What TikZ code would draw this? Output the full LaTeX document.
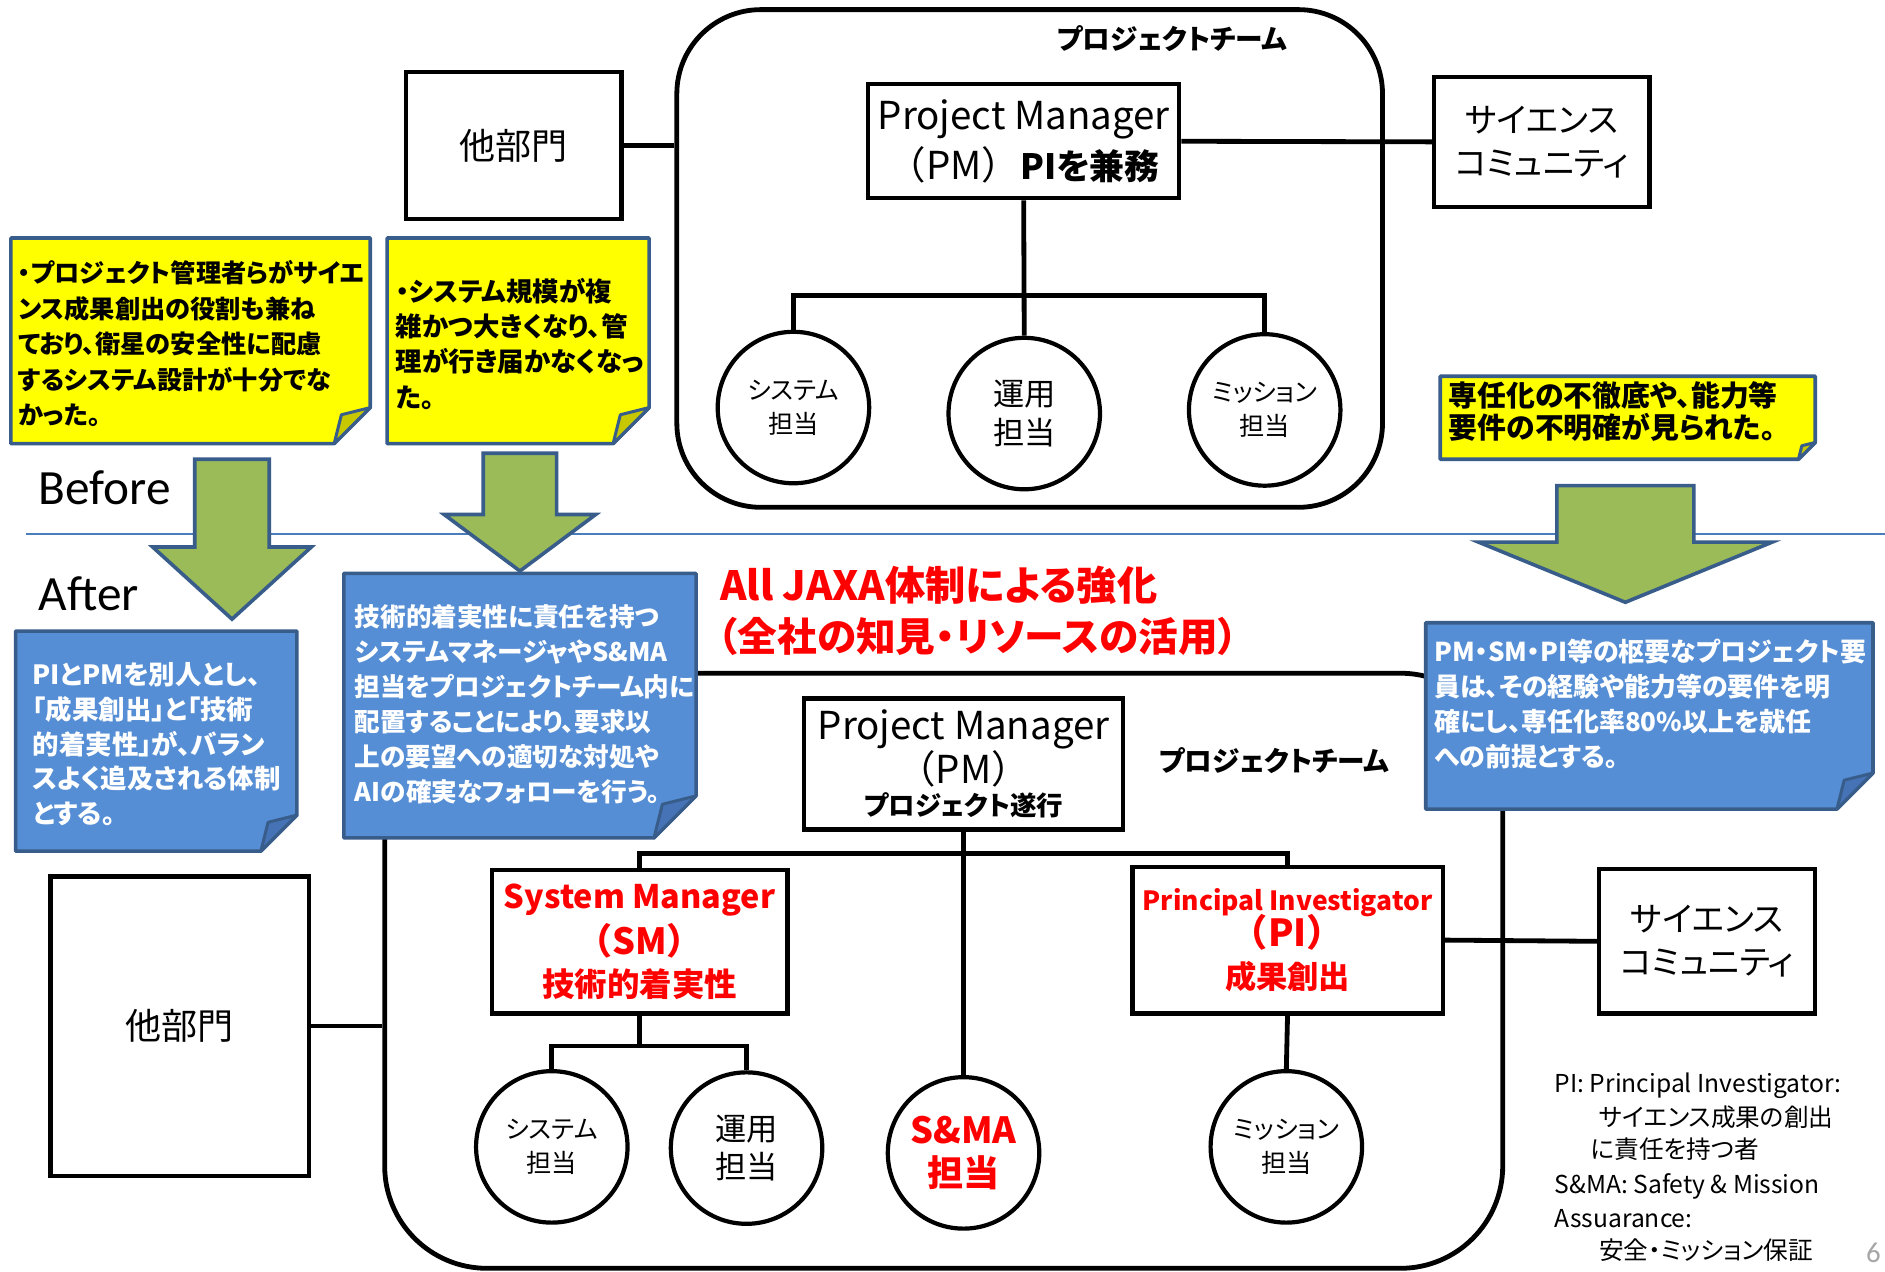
\documentclass[tikz,border=0pt]{standalone}
\usepackage{fontspec}
\setmainfont[RawFeature=+palt]{Noto Sans CJK JP}
\newfontfamily\jpf{Noto Sans CJK JP}
\newfontfamily\calf{Carlito}
\newcommand\fs[2]{\fontsize{#1}{#2}\selectfont}
\definecolor{nb}{HTML}{385D8A}
\definecolor{noteyel}{HTML}{FFFF00}
\definecolor{foldyel}{HTML}{C8C800}
\definecolor{noteblue}{HTML}{558ED5}
\definecolor{foldblue}{HTML}{4573B5}
\definecolor{arrgreen}{HTML}{9BBB59}
\definecolor{sepblue}{HTML}{4A7EBB}
\definecolor{jred}{HTML}{FF0000}
\newcommand\foldnote[7]{%
  \filldraw[fill=#5,draw=nb,line width=3pt,line join=round] (#1,#2) -- (#3,#2) -- (#3,#4-#7) -- (#3-#7,#4) -- (#1,#4) -- cycle;
  \filldraw[fill=#6,draw=nb,line width=2.5pt,line join=round] (#3,#4-#7) -- (#3-0.8*#7,#4-0.8*#7) -- (#3-#7,#4) -- cycle;}
\newcommand\garrow[6]{%
  \filldraw[fill=arrgreen,draw=nb,line width=3pt,line join=miter] (#1-#3,#2) -- (#1+#3,#2) -- (#1+#3,#4) -- (#1+#5,#4) -- (#1,#6) -- (#1-#5,#4) -- (#1-#3,#4) -- cycle;}
\begin{document}
\begin{tikzpicture}[x=1pt,y=-1pt,
  orgbox/.style={draw,line width=3.5pt,inner sep=0pt,align=center},
  orgcirc/.style={circle,draw,line width=3.5pt,inner sep=0pt,minimum size=126pt,align=center},
  conn/.style={line width=4pt},
  teambox/.style={draw,line width=4pt,inner sep=0pt,rounded corners=#1},
  notetext/.style={anchor=west,align=left,inner sep=0pt},
  fn/.style={anchor=base west,inner sep=0pt,font=\fs{20.5}{26}}]
\useasboundingbox (0,0) rectangle (1568,1058);
\fill[white] (0,0) rectangle (1568,1058);

% separator
\coordinate (sepL) at (22,444);
\coordinate (sepR) at (1568,444);
\draw[sepblue,line width=2pt] (sepL) -- (sepR);

% ===== Before =====
\node[teambox=70pt,minimum width=587pt,minimum height=414pt] (team1) at (856.5,215) {};
\node[inner sep=0pt,font=\fs{23}{28}\bfseries] (tt1) at (975,32) {プロジェクトチーム};
\node[orgbox,minimum width=179pt,minimum height=122pt,font=\fs{30}{36}] (toB1) at (427.5,121) {他部門};
\node[orgbox,minimum width=259pt,minimum height=95pt,font=\fs{32}{42}] (pm1) at (851.5,117.5) {Project Manager\\{\jpf （PM）}{\fs{29}{42}\bfseries PIを兼務}};
\node[orgbox,minimum width=179pt,minimum height=108pt,font=\fs{28}{36}] (sci1) at (1282.5,118) {サイエンス\\コミュニティ};
\node[orgcirc,font=\fs{21}{28}] (sys1) at (660,339) {システム\\担当};
\node[orgcirc,font=\fs{26}{32}] (uny1) at (852,344) {運用\\担当};
\node[orgcirc,font=\fs{21}{28}] (mis1) at (1052,341) {ミッション\\担当};
\coordinate (bus1) at (851.5,246);
\draw[conn] (toB1.east) -- (toB1.east -| team1.west);
\draw[conn] (pm1.east) -- (sci1.west);
\draw[conn] (pm1.south) -- (uny1.north);
\draw[conn] (sys1.north) |- (bus1) -| (mis1.north);

% ===== After =====
\node[teambox=85pt,minimum width=930pt,minimum height=495pt] (team2) at (785,807.5) {};
\node[inner sep=0pt,font=\fs{23}{28}\bfseries] (tt2) at (1060,633) {プロジェクトチーム};
\node[orgbox,minimum width=215pt,minimum height=249pt,font=\fs{30}{36}] (toB2) at (149.5,853.5) {他部門};
\node[orgbox,minimum width=265pt,minimum height=109pt,font=\fs{32}{34}] (pm2) at (801.5,635.5) {Project Manager\\{\jpf （PM）}\\[-7pt]{\fs{22}{26}\bfseries プロジェクト遂行}};
\node[orgbox,minimum width=246pt,minimum height=119pt,font=\fs{27}{38}\bfseries,text=jred] (sm) at (532,783.5) {System Manager\\{\jpf\fs{30}{38}（SM）}\\[-3pt]{\fs{27}{38}技術的着実性}};
\node[orgbox,minimum width=258pt,minimum height=122pt,font=\fs{26}{30}\bfseries,text=jred] (pi) at (1071,782) {{\fs{22}{30}Principal Investigator}\\[-3pt]{\jpf\fs{31}{30}（PI）}\\[5pt]{\fs{26}{30}成果創出}};
\node[orgbox,minimum width=180pt,minimum height=120pt,font=\fs{28}{36}] (sci2) at (1420,783) {サイエンス\\コミュニティ};
\node[orgcirc,font=\fs{21}{28}] (sys2) at (459,954) {システム\\担当};
\node[orgcirc,font=\fs{26}{32}] (uny2) at (621,955) {運用\\担当};
\node[orgcirc,font=\fs{30}{36}\bfseries,text=jred] (sma) at (801.5,959) {S\&MA\\担当};
\node[orgcirc,font=\fs{21}{28}] (mis2) at (1070,954) {ミッション\\担当};
\coordinate (bus2) at (801.5,710);
\coordinate (bus3) at (532,870);
\draw[conn] (toB2.east) -- (toB2.east -| team2.west);
\draw[conn] (pm2.south) -- (sma.north);
\draw[conn] (sm.north) |- (bus2) -| (pi.north);
\draw[conn] (sm.south) -- (bus3);
\draw[conn] (sys2.north) |- (bus3) -| (uny2.north);
\draw[conn] (pi.south) -- (mis2.north);
\draw[conn] (pi.east) -- (sci2.west);

% ===== notes =====
\foldnote{9}{198}{308}{369}{noteyel}{foldyel}{30}
\foldnote{322}{198}{540}{369}{noteyel}{foldyel}{30}
\foldnote{1198}{313}{1510}{382}{noteyel}{foldyel}{14}
\foldnote{13}{525}{247}{708}{noteblue}{foldblue}{30}
\foldnote{286}{477}{579}{697}{noteblue}{foldblue}{35}
\foldnote{1186}{518}{1558}{673}{noteblue}{foldblue}{30}

\node[notetext,font=\fs{21}{29.5}\bfseries] (n1) at (15,286) {・プロジェクト管理者らがサイエ\\ンス成果創出の役割も兼ね\\ており、衛星の安全性に配慮\\するシステム設計が十分でな\\かった。};
\node[notetext,font=\fs{22}{29.3}\bfseries] (n2) at (329,286) {・システム規模が複\\雑かつ大きくなり、管\\理が行き届かなくなっ\\た。};
\node[notetext,font=\fs{24}{27}\bfseries] (n3) at (1205,342.5) {専任化の不徹底や、能力等\\要件の不明確が見られた。};
\node[notetext,font=\fs{22}{29}\bfseries,text=white] (na) at (27,619) {PIとPMを別人とし、\\「成果創出」と「技術\\的着実性」が、バラン\\スよく追及される体制\\とする。};
\node[notetext,font=\fs{21.3}{29.2}\bfseries,text=white] (nbx) at (295,586) {技術的着実性に責任を持つ\\システムマネージャやS\&MA\\担当をプロジェクトチーム内に\\配置することにより、要求以\\上の要望への適切な対処や\\AIの確実なフォローを行う。};
\node[notetext,font=\fs{21.6}{29}\bfseries,text=white] (nc) at (1193,585.5) {PM・SM・PI等の枢要なプロジェクト要\\員は、その経験や能力等の要件を明\\確にし、専任化率80\%以上を就任\\への前提とする。};

% ===== arrows =====
\garrow{193}{382}{31}{455}{66}{515}
\garrow{432.5}{377}{30.5}{428}{63}{475}
\garrow{1352}{404}{57}{451}{122}{501}

% ===== labels =====
\node[anchor=base west,inner sep=0pt,font=\calf\fs{41}{44}] (before) at (32,420) {Before};
\node[anchor=base west,inner sep=0pt,font=\calf\fs{41}{44}] (after) at (32,508) {After};
\node[anchor=west,inner sep=0pt,font=\fs{33.5}{40}\bfseries,text=jred] (jaxa1) at (599,487) {All JAXA体制による強化};
\node[anchor=west,inner sep=0pt,font=\fs{33}{40}\bfseries,text=jred] (jaxa2) at (597,529) {（全社の知見・リソースの活用）};

\node[fn] (fn1) at (1293,909) {PI: Principal Investigator:};
\node[fn] (fn2) at (1330,937) {サイエンス成果の創出};
\node[fn] (fn3) at (1323,964) {に責任を持つ者};
\node[fn] (fn4) at (1293,993) {S\&MA: Safety \& Mission};
\node[fn] (fn5) at (1293,1021) {Assuarance:};
\node[fn] (fn6) at (1330,1048) {安全・ミッション保証};
\node[anchor=base west,inner sep=0pt,font=\calf\fs{24}{28},text=gray!70] (pg) at (1552,1050) {6};
\end{tikzpicture}
\end{document}
